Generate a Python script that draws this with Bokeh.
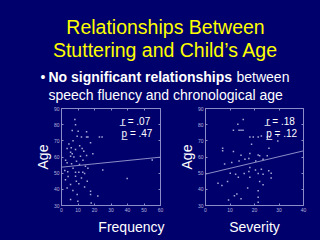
from bokeh.plotting import figure
from bokeh.models import Range1d, LinearAxis, FixedTicker, Label, Title
from bokeh.layouts import column, row
from bokeh.embed import file_html
from bokeh.resources import INLINE
from bokeh.core.properties import value

# ---------------- data ----------------
title_lines = ["Relationships Between", "Stuttering and Child\u2019s Age"]
bullet_bold = "No significant relationships"
bullet_rest = "between"
bullet_line2 = "speech fluency and chronological age"

age_ticks = [30, 40, 50, 60, 70, 80, 90]
freq_ticks = [0, 10, 20, 30, 40, 50, 60]
sev_ticks = [0, 10, 20, 30, 40]

frequency = [8.1, 8.5, 6.5, 10.1, 15.2, 9.5, 12.1, 15.2, 16.0, 23.0, 24.6, 17.6,
             3.4, 5.9, 5.5, 6.5, 8.5, 12.5, 13.5, 5.5, 7.5, 11.5, 15.2, 9.1,
             3.4, 6.1, 10.9, 14.5, 25.0, 2.0, 3.8, 8.5, 10.5, 12.9, 14.0, 8.5,
             12.1, 15.6, 2.4, 5.5, 10.5, 14.0, 3.4, 6.9, 17.6, 9.5, 17.6, 22.0,
             5.5, 9.9, 18.0, 39.8, 55.0, 4.5, 7.0, 2.5, 11.0, 13.0, 7.0, 4.0,
             9.0, 16.0, 19.0]
freq_age = [83.2, 80.0, 76.4, 76.0, 75.6, 72.9, 72.3, 72.3, 72.3, 72.3, 72.3, 68.8,
            65.3, 65.7, 63.0, 62.0, 64.6, 65.3, 63.6, 60.5, 60.0, 60.5, 61.0, 57.4,
            56.4, 55.8, 55.4, 54.3, 52.0, 51.6, 50.8, 50.6, 50.6, 50.6, 49.8, 48.1,
            47.0, 45.0, 46.0, 43.0, 43.4, 41.4, 40.9, 39.3, 38.8, 36.8, 36.8, 35.8,
            33.7, 32.7, 31.6, 46.7, 58.2, 68.0, 70.0, 58.0, 67.0, 58.0, 53.0, 48.0,
            45.0, 53.0, 62.0]
freq_fit_x = [0, 60]
freq_fit_y = [53.7, 59.9]
freq_r = "r\u0332 = .07"
freq_p = "p\u0332 = .47"

severity = [15.4, 13.2, 11.4, 13.7, 14.5, 15.3, 18.1, 19.5, 21.5, 22.8, 25.2, 26.2,
            29.5, 18.8, 25.9, 7.0, 7.0, 11.4, 14.5, 18.1, 21.5, 22.1, 25.2, 7.8,
            10.7, 13.7, 16.1, 17.7, 20.5, 23.5, 18.1, 20.4, 22.8, 10.1, 12.3, 15.8,
            17.7, 21.5, 23.5, 25.8, 26.8, 5.1, 6.7, 9.0, 13.4, 18.1, 22.1, 23.5,
            26.8, 17.2, 21.5, 12.8, 11.8, 9.4, 14.5, 21.5, 21.5, 29.5]
sev_age = [83.2, 80.2, 76.5, 76.5, 76.5, 76.5, 72.4, 72.4, 72.4, 73.0, 72.4, 72.4,
           73.0, 67.9, 65.4, 65.4, 63.8, 63.4, 61.1, 62.1, 61.3, 60.7, 60.7, 55.6,
           56.6, 57.6, 58.6, 59.0, 57.6, 58.6, 53.5, 51.9, 52.5, 50.0, 49.4, 49.8,
           51.0, 49.8, 49.4, 51.5, 50.0, 43.7, 42.3, 44.9, 47.4, 47.4, 44.9, 42.9,
           47.0, 40.8, 39.2, 37.1, 36.1, 33.4, 34.1, 35.1, 32.0, 69.9]
sev_fit_x = [0, 40]
sev_fit_y = [49.4, 63.8]
sev_r = "r\u0332 = .18"
sev_p = "p\u0332 = .12"

# ---------------- style ----------------
BG = "#00006C"
FONT = value("Liberation Sans")
FRAME = "#8c8cc8"
DOT = "#a8a8d8"
TICKLBL = "#b4b4dc"
HDR_H = 104

# ---------------- header ----------------
hdr = figure(width=320, height=HDR_H, x_range=Range1d(0, 320), y_range=Range1d(HDR_H, 0),
             output_backend="svg", toolbar_location=None, min_border=0,
             x_axis_location=None, y_axis_location=None,
             background_fill_color=BG, border_fill_color=BG, outline_line_color=None)
hdr.grid.visible = False
hdr.text(x=[165, 165], y=[26.5, 49.5], text=title_lines, text_align="center",
         text_baseline="alphabetic", text_font=FONT, text_font_size="19.5px",
         text_color="#FFFF00")
hdr.text(x=[40], y=[76.5], text=["\u2022"], text_align="left", text_baseline="alphabetic",
         text_font=FONT, text_font_size="14px", text_color="white")
hdr.text(x=[48], y=[76.5], text=[bullet_bold], text_align="left", text_baseline="alphabetic",
         text_font=FONT, text_font_size="14px", text_font_style="bold", text_color="white")
hdr.text(x=[236], y=[76.5], text=[bullet_rest], text_align="left", text_baseline="alphabetic",
         text_font=FONT, text_font_size="14px", text_color="white")
hdr.text(x=[48], y=[94.5], text=[bullet_line2], text_align="left", text_baseline="alphabetic",
         text_font=FONT, text_font_size="14px", text_color="white")


def panel(width, bl, br, bt, bb, xmax, xticks, xs, ys, fx, fy, rtxt, ptxt,
          lbl, lbl_align, lbl_offset, ann_x):
    p = figure(width=width, height=240 - HDR_H, x_range=Range1d(0, xmax),
               y_range=Range1d(30, 90),
               output_backend="svg", toolbar_location=None,
               min_border_left=bl, min_border_right=br, min_border_top=bt,
               min_border_bottom=bb,
               background_fill_color=BG, border_fill_color=BG,
               outline_line_color=FRAME, outline_line_width=1)
    p.grid.visible = False
    p.xaxis.ticker = FixedTicker(ticks=xticks)
    p.yaxis.ticker = FixedTicker(ticks=age_ticks)
    for ax in (p.xaxis[0], p.yaxis[0]):
        ax.axis_line_color = FRAME
        ax.major_tick_line_color = FRAME
        ax.major_tick_in = 2
        ax.major_tick_out = 0
        ax.minor_tick_line_color = None
        ax.major_label_text_font_size = "5px"
        ax.major_label_text_color = TICKLBL
        ax.major_label_text_font = "Liberation Sans"
        ax.major_label_standoff = 2
        ax.axis_label_text_font_size = "14px"
        ax.axis_label_text_font_style = "normal"
        ax.axis_label_text_font = "Liberation Sans"
        ax.axis_label_text_color = "white"
    p.yaxis.axis_label = "Age"
    p.yaxis.axis_label_standoff = 0
    p.add_layout(Title(text=lbl, align=lbl_align, offset=lbl_offset, standoff=4,
                       text_font="Liberation Sans", text_font_size="14px",
                       text_font_style="normal", text_color="white"), "below")
    top = LinearAxis(ticker=FixedTicker(ticks=xticks), major_label_text_color=None,
                     major_label_text_font_size="5px",
                     axis_line_color=None, major_tick_line_color=FRAME, major_tick_in=2,
                     major_tick_out=0, minor_tick_line_color=None, major_label_standoff=0)
    right = LinearAxis(ticker=FixedTicker(ticks=age_ticks), major_label_text_color=None,
                       major_label_text_font_size="5px",
                       axis_line_color=None, major_tick_line_color=FRAME, major_tick_in=2,
                       major_tick_out=0, minor_tick_line_color=None, major_label_standoff=0)
    p.add_layout(top, "above")
    p.add_layout(right, "right")
    p.scatter(xs, ys, marker="square", size=1.5, fill_color=DOT, line_color=None)
    p.line(fx, fy, line_color=FRAME, line_width=1)
    p.add_layout(Label(x=ann_x, y=82.0, text=rtxt, text_font="Liberation Sans",
                       text_font_size="10px", text_color="white", text_baseline="alphabetic"))
    p.add_layout(Label(x=ann_x, y=74.6, text=ptxt, text_font="Liberation Sans",
                       text_font_size="10px", text_color="white", text_baseline="alphabetic"))
    return p


left = panel(175, 61, 15, 4, 35, 60, freq_ticks, frequency, freq_age, freq_fit_x, freq_fit_y,
             freq_r, freq_p, "Frequency", "right", -4, 36.4)
right_p = panel(145, 28, 17, 4, 33, 40, sev_ticks, severity, sev_age, sev_fit_x, sev_fit_y,
                sev_r, sev_p, "Severity", "center", 0, 24.8)

bg_style = {"background-color": BG}
layout = column(hdr, row(left, right_p, spacing=0, styles=bg_style), spacing=0,
                styles=bg_style)
open("out.html", "w").write(file_html(layout, INLINE))
